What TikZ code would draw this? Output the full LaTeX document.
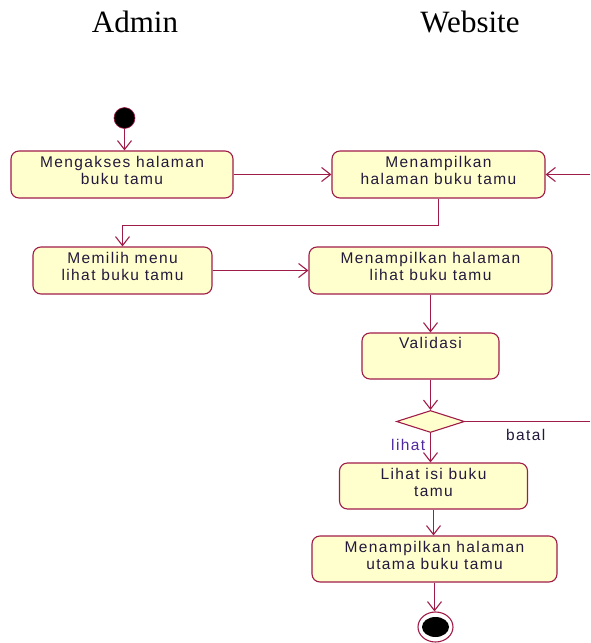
\documentclass[tikz,border=0pt]{standalone}
\usepackage{fontspec}
\usetikzlibrary{arrows.meta,shapes.geometric}
\newfontfamily\boxfont[LetterSpace=9]{Liberation Sans}
\newfontfamily\titlefont{Liberation Serif}
\definecolor{lc}{RGB}{160,28,72}
\definecolor{boxfill}{RGB}{255,255,206}
\definecolor{txtc}{RGB}{35,25,60}
\definecolor{guardc}{RGB}{80,40,160}
\tikzset{
  act/.style={draw=lc, fill=boxfill, rounded corners=8pt, line width=1.1pt, inner sep=0pt, minimum height=47pt},
  acttxt/.style={anchor=north, inner sep=0pt, align=center, text=txtc, font=\boxfont\fontsize{15.5}{17}\selectfont},
  flow/.style={draw=lc, line width=1.1pt, -{Straight Barb[length=9pt,width=14pt,line width=1.1pt]}},
  plain/.style={draw=lc, line width=1.1pt},
  guard/.style={inner sep=0pt, anchor=base west, font=\boxfont\fontsize{15.5}{17}\selectfont},
  lane/.style={inner sep=0pt, anchor=base, font=\titlefont\fontsize{31}{36}\selectfont}
}
\begin{document}
\begin{tikzpicture}[x=1pt,y=-1pt]
\useasboundingbox (0,0) rectangle (590,643);
% swimlane titles
\node[lane] (tadmin) at (135,32) {Admin};
\node[lane] (tweb) at (470,32) {Website};
% start
\node[circle, fill=black, draw=lc, line width=0.6pt, minimum size=21pt, inner sep=0pt] (start) at (124.5,118) {};
% activities
\node[act, minimum width=222pt] (b1) at (122,174.5) {};
\node[acttxt] (t1) at ([yshift=-5.5pt]b1.north) {Mengakses halaman\\buku tamu};
\node[act, minimum width=213pt] (b2) at (438.5,174.5) {};
\node[acttxt] (t2) at ([yshift=-5.5pt]b2.north) {Menampilkan\\halaman buku tamu};
\node[act, minimum width=179pt] (b3) at (122.5,270.5) {};
\node[acttxt] (t3) at ([yshift=-5.5pt]b3.north) {Memilih menu\\lihat buku tamu};
\node[act, minimum width=243pt] (b4) at (430.5,270.5) {};
\node[acttxt] (t4) at ([yshift=-5.5pt]b4.north) {Menampilkan halaman\\lihat buku tamu};
\node[act, minimum width=137pt, minimum height=46pt] (val) at (430.5,356) {};
\node[acttxt] (tval) at ([yshift=-4.5pt]val.north) {Validasi};
\node[diamond, draw=lc, fill=boxfill, line width=1.1pt, inner sep=0pt, minimum width=68pt, minimum height=22pt] (dia) at (430.5,421.5) {};
\node[act, minimum width=188pt, minimum height=46pt] (lb) at (433.5,486) {};
\node[acttxt] (tlb) at ([yshift=-5.5pt]lb.north) {Lihat isi buku\\tamu};
\node[act, minimum width=245pt, minimum height=46pt] (ub) at (434.5,559) {};
\node[acttxt] (tub) at ([yshift=-5.5pt]ub.north) {Menampilkan halaman\\utama buku tamu};
% end
\node[ellipse, draw=lc, fill=white, line width=1.1pt, minimum width=35pt, minimum height=30pt, inner sep=0pt] (endo) at (435.5,627) {};
\node[ellipse, fill=black, minimum width=27pt, minimum height=20pt, inner sep=0pt] (endi) at (435.5,627) {};
% free ends at the right edge
\coordinate (rt1) at (590,421.5);
\coordinate (rt2) at (590,174.5);
% flows
\draw[flow] (start.south) -- (start.south |- b1.north);
\draw[flow] (b1.east) -- (b2.west);
\draw[flow] (b2.south) -- ++(0,27) -| (b3.north);
\draw[flow] (b3.east) -- (b4.west);
\draw[flow] (b4.south) -- (val.north);
\draw[flow] (val.south) -- (dia.north);
\draw[flow] (dia.south) -- (dia.south |- lb.north);
\draw[flow] (lb.south) -- (lb.south |- ub.north);
\draw[flow] (ub.south) -- (ub.south |- endo.north);
\draw[plain] (dia.east) -- (rt1);
\draw[flow] (rt2) -- (b2.east);
% guards
\node[guard, text=guardc] (glihat) at (391,450) {lihat};
\node[guard, text=txtc] (gbatal) at (506,440) {batal};
\end{tikzpicture}
\end{document}
